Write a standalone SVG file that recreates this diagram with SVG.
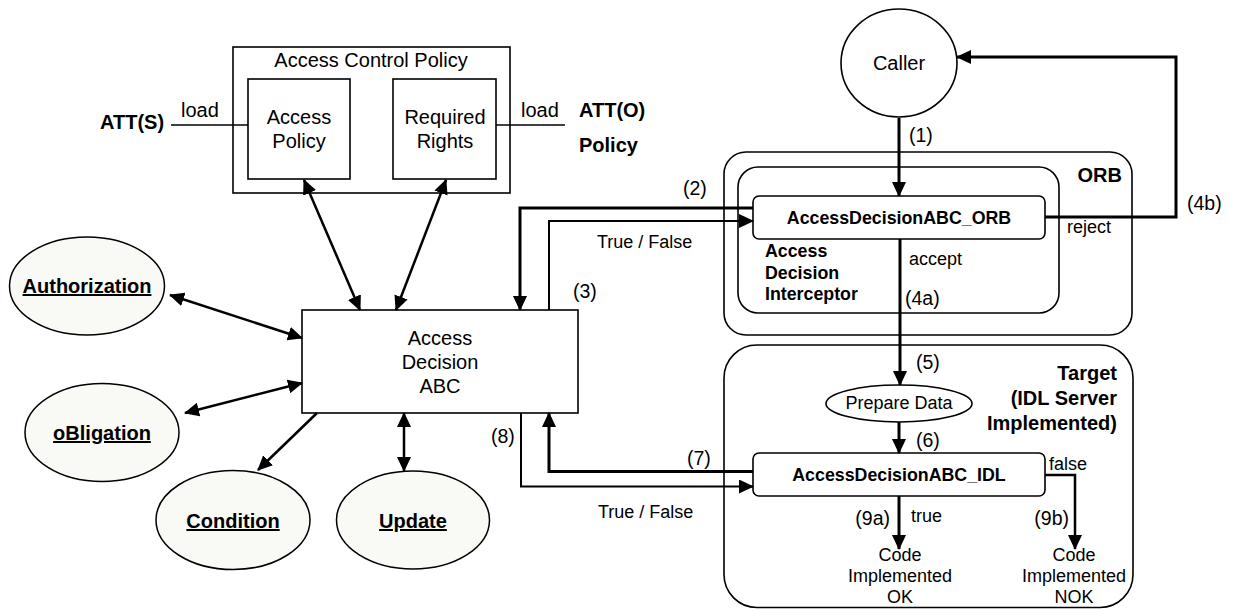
<svg xmlns="http://www.w3.org/2000/svg" width="1234" height="609" viewBox="0 0 1234 609">
<defs>
<style>
text{font-family:"Liberation Sans",Arial,sans-serif;fill:#000}
.t20{font-size:20px}
.t18{font-size:18px}
.lbl{font-size:19.5px}
.b20{font-size:20px;font-weight:bold}
.b18{font-size:17.8px;font-weight:bold}
.u{text-decoration:underline}
.mid{text-anchor:middle}
.end{text-anchor:end}
.box{fill:#fff;stroke:#000;stroke-width:1.6}
.oval{fill:#f9f9f6;stroke:#000;stroke-width:1.5}
.cont{fill:none;stroke:#000;stroke-width:1.6}
.w3{fill:none;stroke:#000;stroke-width:3}
.w25{fill:none;stroke:#000;stroke-width:2.5}
.w2{fill:none;stroke:#000;stroke-width:2}
.thin{fill:none;stroke:#000;stroke-width:1.5}
.arr{marker-end:url(#ah)}
.dbl{marker-start:url(#ah);marker-end:url(#ah)}
</style>
<marker id="ah" viewBox="0 0 15 14" refX="14" refY="7" markerWidth="15" markerHeight="14" markerUnits="userSpaceOnUse" orient="auto-start-reverse">
<path d="M0,0 L15,7 L0,14 z" fill="#000"/>
</marker>
</defs>

<g id="acp">
<rect class="box" x="233" y="47" width="277" height="146"/>
<text class="t20 mid" x="371" y="67">Access Control Policy</text>
</g>
<g id="access-policy">
<rect class="box" x="248" y="79" width="102" height="100"/>
<text class="t20 mid" x="299" y="124">Access</text>
<text class="t20 mid" x="299" y="148">Policy</text>
</g>
<g id="required-rights">
<rect class="box" x="393" y="79" width="103" height="100"/>
<text class="t20 mid" x="445" y="124">Required</text>
<text class="t20 mid" x="445" y="148">Rights</text>
</g>
<g id="att-s">
<text class="b20" x="100" y="129">ATT(S)</text>
</g>
<g id="att-o">
<text class="b20" x="579" y="117">ATT(O)</text>
<text class="b20" x="579" y="152">Policy</text>
</g>

<g id="caller">
<ellipse class="box" cx="899" cy="63" rx="58" ry="54"/>
<text class="t20 mid" x="899" y="70">Caller</text>
</g>

<g id="orb">
<rect class="cont" x="724" y="152" width="408" height="183" rx="22"/>
<text class="b20 end" x="1122" y="182">ORB</text>
</g>
<g id="interceptor">
<rect class="cont" x="738" y="167" width="321" height="146" rx="20"/>
<text class="b18" x="765" y="257">Access</text>
<text class="b18" x="765" y="278.5">Decision</text>
<text class="b18" x="765" y="300">Interceptor</text>
</g>
<g id="adabc-orb">
<rect class="box" x="753" y="196" width="292" height="43" rx="6"/>
<text class="b18 mid" x="899" y="224">AccessDecisionABC_ORB</text>
</g>

<g id="target">
<rect class="cont" x="724" y="345" width="409" height="262.5" rx="33"/>
<text class="b20 end" x="1117" y="380">Target</text>
<text class="b20 end" x="1117" y="405">(IDL Server</text>
<text class="b20 end" x="1117" y="429.5">Implemented)</text>
</g>
<g id="prepare-data">
<ellipse class="box" cx="899" cy="403.5" rx="73" ry="18.5"/>
<text class="t18 mid" x="899" y="409">Prepare Data</text>
</g>
<g id="adabc-idl">
<rect class="box" x="753" y="453" width="292" height="43" rx="6"/>
<text class="b18 mid" x="899" y="481">AccessDecisionABC_IDL</text>
</g>
<g id="code-ok">
<text class="t18 mid" x="900" y="561">Code</text>
<text class="t18 mid" x="900" y="582">Implemented</text>
<text class="t18 mid" x="900" y="603">OK</text>
</g>
<g id="code-nok">
<text class="t18 mid" x="1074" y="561">Code</text>
<text class="t18 mid" x="1074" y="582">Implemented</text>
<text class="t18 mid" x="1074" y="603">NOK</text>
</g>

<g id="adabc">
<rect class="box" x="302" y="310" width="276" height="103"/>
<text class="t20 mid" x="440" y="345">Access</text>
<text class="t20 mid" x="440" y="369">Decision</text>
<text class="t20 mid" x="440" y="393">ABC</text>
</g>

<g id="authorization">
<ellipse class="oval" cx="87" cy="286" rx="77.5" ry="49"/>
<text class="b20 mid u" x="87" y="293">Authorization</text>
</g>
<g id="obligation">
<ellipse class="oval" cx="102" cy="432.5" rx="77" ry="49"/>
<text class="b20 mid u" x="102" y="440">oBligation</text>
</g>
<g id="condition">
<ellipse class="oval" cx="233" cy="520" rx="77" ry="49.5"/>
<text class="b20 mid u" x="233" y="528">Condition</text>
</g>
<g id="update">
<ellipse class="oval" cx="413" cy="520" rx="76.5" ry="49"/>
<text class="b20 mid u" x="413" y="528">Update</text>
</g>

<g id="connectors">
<path class="thin" d="M171,125 L248,125"/>
<text class="t20" x="181" y="117">load</text>
<path class="thin" d="M496,125 L565,125"/>
<text class="t20" x="521" y="117">load</text>

<path class="w25 dbl" d="M304,180 L360,310"/>
<path class="w25 dbl" d="M446,180 L396,310"/>
<path class="w25 dbl" d="M170,295 L302,338"/>
<path class="w25 dbl" d="M185,413 L302,383"/>
<path class="w25 arr" d="M317,413 L258,470"/>
<path class="w25 dbl" d="M404,413 L404,471"/>

<path class="w3 arr" d="M899,118 L899,196"/>
<text class="lbl" x="909" y="142">(1)</text>

<path class="w3 arr" d="M753,208 L520,208 L520,310"/>
<text class="lbl" x="683" y="195">(2)</text>
<path class="w2 arr" d="M549,310 L549,221 L753,221"/>
<text class="t18" x="597" y="248">True / False</text>
<text class="lbl" x="573" y="298">(3)</text>

<path class="w3 arr" d="M1045,217 L1176,217 L1176,57 L957,57"/>
<text class="t18" x="1067" y="233">reject</text>
<text class="lbl" x="1187" y="210">(4b)</text>

<path class="w3 arr" d="M900,239 L900,385"/>
<text class="t18" x="909" y="265">accept</text>
<text class="lbl" x="905" y="305">(4a)</text>
<text class="lbl" x="916" y="369">(5)</text>

<path class="w3 arr" d="M899,422 L899,453"/>
<text class="lbl" x="916" y="447">(6)</text>

<path class="w3 arr" d="M753,471.5 L549,471.5 L549,413"/>
<text class="lbl" x="687" y="465">(7)</text>
<path class="w2 arr" d="M521,413 L521,486.5 L753,486.5"/>
<text class="lbl" x="491" y="443">(8)</text>
<text class="t18" x="598" y="518">True / False</text>

<path class="w3 arr" d="M899,496 L899,549"/>
<text class="lbl end" x="890" y="525">(9a)</text>
<text class="t18" x="911" y="522">true</text>
<path class="w25 arr" d="M1045,475 L1075,475 L1075,549"/>
<text class="t18" x="1049" y="470">false</text>
<text class="lbl end" x="1069" y="525">(9b)</text>
</g>
</svg>
